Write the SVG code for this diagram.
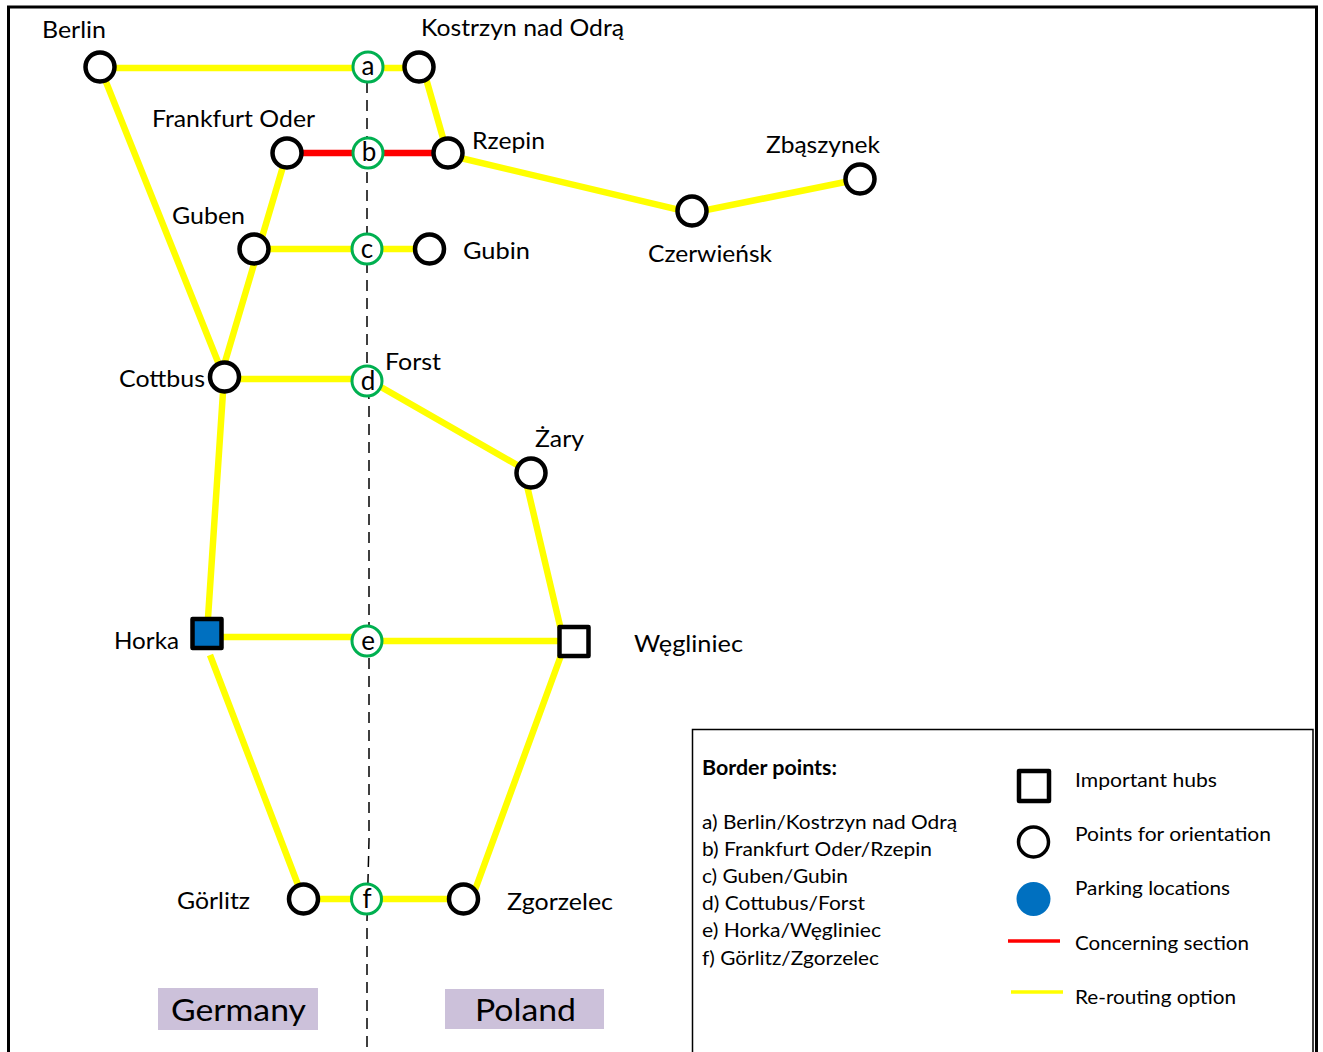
<svg xmlns="http://www.w3.org/2000/svg" width="1323" height="1052" viewBox="0 0 1323 1052">
<style>
text{font-family:Lato,"Open Sans","Liberation Sans",sans-serif;fill:#000;font-size:24px}
.r{stroke:#ff0;stroke-width:6.500;fill:none}
.c{stroke:#f00;stroke-width:6.500;fill:none}
.o{fill:#fff;stroke:#000;stroke-width:4.500}
.b{fill:#fff;stroke:#00b050;stroke-width:3}
.s{stroke:#000;stroke-width:4.500;stroke-linejoin:round}
.l{font-size:20px}
.g{font-size:31px}
.bl{font-size:26px}
</style>
<rect width="1323" height="1052" fill="#fff"/>
<path id="frame" d="M8.500 1052V7H1316.500V1052" fill="none" stroke="#000" stroke-width="3"/>
<path id="border-line" d="M367 82V370L369 400V840L367 920V1052" fill="none" stroke="#000" stroke-width="1.500" stroke-dasharray="11 7"/>
<g id="connectors">
<path class="r" d="M100 68H419M425 75L445 145M100 67L222 372M287 153L222 372M254 249H430M224 379H367M367 379L531 473M224 377L207 633M207 637H367M367 641H574M524 473L561 630M210 655L300 890M303 899H463M563 650L475 890M448 155L692 213L860 179"/>
<path class="c" d="M287 153H448"/>
</g>
<g id="node-berlin"><circle class="o" cx="100" cy="67" r="14.500"/><text x="42" y="38" textLength="64" lengthAdjust="spacingAndGlyphs">Berlin</text></g>
<g id="node-kostrzyn"><circle class="o" cx="419" cy="67" r="14.500"/><text x="421" y="36" textLength="203" lengthAdjust="spacingAndGlyphs">Kostrzyn nad Odrą</text></g>
<g id="node-frankfurt"><circle class="o" cx="287" cy="153" r="14.500"/><text x="152" y="127" textLength="163" lengthAdjust="spacingAndGlyphs">Frankfurt Oder</text></g>
<g id="node-rzepin"><circle class="o" cx="448" cy="153" r="14.500"/><text x="472" y="149" textLength="73" lengthAdjust="spacingAndGlyphs">Rzepin</text></g>
<g id="node-guben"><circle class="o" cx="254" cy="249" r="14.500"/><text x="172" y="224" textLength="73" lengthAdjust="spacingAndGlyphs">Guben</text></g>
<g id="node-gubin"><circle class="o" cx="429.500" cy="249" r="14.500"/><text x="463" y="259" textLength="67" lengthAdjust="spacingAndGlyphs">Gubin</text></g>
<g id="node-czerwiensk"><circle class="o" cx="692" cy="211" r="14.500"/><text x="648" y="262" textLength="124" lengthAdjust="spacingAndGlyphs">Czerwieńsk</text></g>
<g id="node-zbaszynek"><circle class="o" cx="860" cy="179" r="14.500"/><text x="766" y="153" textLength="114" lengthAdjust="spacingAndGlyphs">Zbąszynek</text></g>
<g id="node-cottbus"><circle class="o" cx="224.500" cy="377" r="14.500"/><text x="119" y="387" textLength="86" lengthAdjust="spacingAndGlyphs">Cottbus</text></g>
<g id="node-zary"><circle class="o" cx="531" cy="473" r="14.500"/><text x="535" y="447" textLength="49" lengthAdjust="spacingAndGlyphs">Żary</text></g>
<g id="node-forst"><text x="385" y="370" textLength="56" lengthAdjust="spacingAndGlyphs">Forst</text></g>
<g id="node-horka"><rect class="s" x="192.500" y="619" width="29" height="29" fill="#0070c0"/><text x="114" y="649" textLength="65" lengthAdjust="spacingAndGlyphs">Horka</text></g>
<g id="node-wegliniec"><rect class="s" x="559.500" y="627" width="29" height="29" fill="#fff"/><text x="634" y="652" textLength="109" lengthAdjust="spacingAndGlyphs">Węgliniec</text></g>
<g id="node-gorlitz"><circle class="o" cx="303.500" cy="899" r="14.500"/><text x="177" y="909" textLength="73" lengthAdjust="spacingAndGlyphs">Görlitz</text></g>
<g id="node-zgorzelec"><circle class="o" cx="463.500" cy="899" r="14.500"/><text x="507" y="910" textLength="106" lengthAdjust="spacingAndGlyphs">Zgorzelec</text></g>
<g id="point-a"><circle class="b" cx="368" cy="67" r="15"/><text class="bl" x="368" y="75" text-anchor="middle">a</text></g>
<g id="point-b"><circle class="b" cx="368" cy="153" r="15"/><text class="bl" x="369" y="161" text-anchor="middle">b</text></g>
<g id="point-c"><circle class="b" cx="367" cy="249" r="15"/><text class="bl" x="367" y="258" text-anchor="middle">c</text></g>
<g id="point-d"><circle class="b" cx="367" cy="381" r="15"/><text class="bl" x="368" y="390" text-anchor="middle">d</text></g>
<g id="point-e"><circle class="b" cx="367" cy="641" r="15"/><text class="bl" x="368" y="650" text-anchor="middle">e</text></g>
<g id="point-f"><circle class="b" cx="366.500" cy="899" r="15"/><text class="bl" x="367" y="908" text-anchor="middle">f</text></g>
<g id="label-germany"><rect x="158" y="988" width="160" height="42" fill="#ccc1da"/><text class="g" x="171" y="1021" textLength="135" lengthAdjust="spacingAndGlyphs">Germany</text></g>
<g id="label-poland"><rect x="445" y="989" width="159" height="40" fill="#ccc1da"/><text class="g" x="475" y="1021" textLength="101" lengthAdjust="spacingAndGlyphs">Poland</text></g>
<g id="legend">
<path d="M692.500 1052V729.500H1313V1052" fill="#fff" stroke="#000" stroke-width="1.500"/>
<text class="l" x="702" y="775" font-weight="700" textLength="135" lengthAdjust="spacingAndGlyphs">Border points:</text>
<text class="l" x="702" y="829" textLength="255" lengthAdjust="spacingAndGlyphs">a) Berlin/Kostrzyn nad Odrą</text>
<text class="l" x="702" y="856" textLength="230" lengthAdjust="spacingAndGlyphs">b) Frankfurt Oder/Rzepin</text>
<text class="l" x="702" y="883" textLength="146" lengthAdjust="spacingAndGlyphs">c) Guben/Gubin</text>
<text class="l" x="702" y="910" textLength="163" lengthAdjust="spacingAndGlyphs">d) Cottubus/Forst</text>
<text class="l" x="702" y="937" textLength="179" lengthAdjust="spacingAndGlyphs">e) Horka/Węgliniec</text>
<text class="l" x="702" y="965" textLength="177" lengthAdjust="spacingAndGlyphs">f) Görlitz/Zgorzelec</text>
<rect class="s" x="1019" y="771" width="30" height="30" fill="#fff" stroke-width="3.500"/>
<circle cx="1033.500" cy="842" r="15" fill="#fff" stroke="#000" stroke-width="3.500"/>
<circle cx="1033.500" cy="899" r="17" fill="#0070c0"/>
<path d="M1008 941H1060" stroke="#f00" stroke-width="3.500"/>
<path d="M1011 992H1063" stroke="#ff0" stroke-width="3.500"/>
<text class="l" x="1075" y="787" textLength="142" lengthAdjust="spacingAndGlyphs">Important hubs</text>
<text class="l" x="1075" y="841" textLength="196" lengthAdjust="spacingAndGlyphs">Points for orientation</text>
<text class="l" x="1075" y="895" textLength="155" lengthAdjust="spacingAndGlyphs">Parking locations</text>
<text class="l" x="1075" y="950" textLength="174" lengthAdjust="spacingAndGlyphs">Concerning section</text>
<text class="l" x="1075" y="1004" textLength="161" lengthAdjust="spacingAndGlyphs">Re-routing option</text>
</g>
</svg>
